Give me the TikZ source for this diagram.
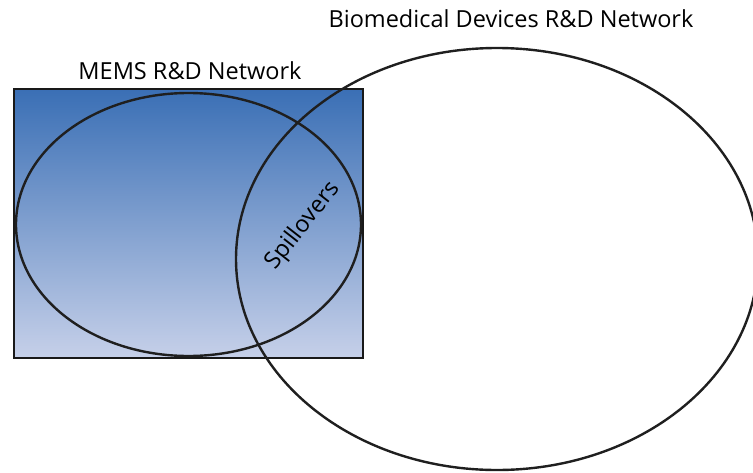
\documentclass[tikz,border=0pt]{standalone}
\usepackage{fontspec}
\setmainfont{Open Sans}
\usetikzlibrary{shapes.geometric}
\begin{document}
\begin{tikzpicture}[x=1pt,y=-1pt,
  outline/.style={draw=black!88, line width=2.4pt},
  label/.style={font=\fontsize{23.5}{28}\selectfont, text=black, inner sep=0pt}]
  \useasboundingbox (0,0) rectangle (753,472);
  % MEMS network box with vertical gradient
  \node[draw=black!90, line width=2.8pt, top color={rgb,255:red,58;green,111;blue,181},
        bottom color={rgb,255:red,198;green,208;blue,233},
        minimum width=349pt, minimum height=269pt, inner sep=0pt] (box) at (188.5,223.5) {};
  % MEMS ellipse
  \node[outline, ellipse, minimum width=345pt, minimum height=263pt, inner sep=0pt] (mems) at (188.5,224.5) {};
  % Biomedical devices ellipse
  \node[outline, ellipse, minimum width=522pt, minimum height=422pt, inner sep=0pt] (bio) at (497,259) {};
  % labels
  \node[label] (memslbl) at (190,71) {MEMS R\&D Network};
  \node[label] (biolbl) at (511,19) {Biomedical Devices R\&D Network};
  \node[label, rotate=52] (spill) at (303,226) {Spillovers};
\end{tikzpicture}
\end{document}
